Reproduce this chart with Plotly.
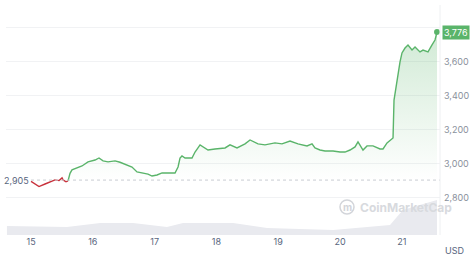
import plotly.graph_objects as go

# ---- data ----
days = [15.000, 15.065, 15.129, 15.227, 15.307, 15.388, 15.453, 15.502, 15.518, 15.566,
        15.599, 15.631, 15.663, 15.744, 15.825, 15.922, 16.036, 16.100, 16.165, 16.246,
        16.359, 16.440, 16.521, 16.634, 16.715, 16.812, 16.893, 16.958, 17.039, 17.120,
        17.217, 17.330, 17.379, 17.411, 17.443, 17.492, 17.605, 17.654, 17.735, 17.816,
        17.864, 17.977, 18.139, 18.220, 18.333, 18.463, 18.544, 18.673, 18.786, 18.948,
        19.061, 19.191, 19.320, 19.466, 19.547, 19.595, 19.676, 19.757, 19.887, 20.000,
        20.081, 20.162, 20.243, 20.291, 20.372, 20.437, 20.534, 20.647, 20.696, 20.761,
        20.809, 20.858, 20.874, 20.906, 20.939, 20.971, 21.003, 21.052, 21.100, 21.165,
        21.214, 21.294, 21.343, 21.424, 21.489, 21.537, 21.570]
price = [2897, 2880, 2867, 2882, 2895, 2906, 2902, 2918, 2906, 2895,
         2900, 2945, 2965, 2976, 2988, 3012, 3023, 3035, 3018, 3012,
         3018, 3010, 3000, 2982, 2953, 2947, 2940, 2929, 2935, 2947,
         2945, 2947, 2982, 3035, 3047, 3035, 3035, 3070, 3112, 3094,
         3082, 3088, 3094, 3112, 3094, 3118, 3141, 3118, 3112, 3124,
         3118, 3135, 3118, 3106, 3118, 3094, 3082, 3076, 3076, 3070,
         3070, 3082, 3100, 3130, 3082, 3106, 3106, 3088, 3088, 3124,
         3141, 3153, 3376, 3453, 3535, 3600, 3653, 3682, 3700, 3670,
         3688, 3659, 3670, 3659, 3700, 3729, 3776]
split_index = 10  # last red point / first green point
open_price = 2905
last_price = 3776

vol_days = [14.61, 15.58, 16.12, 16.65, 17.20, 17.46, 18.27, 18.82, 19.35, 19.89,
            20.44, 20.81, 20.92, 21.02, 21.29, 21.57]
volume = [9, 8, 12, 12, 8, 12, 12, 7, 6, 5, 8, 10, 18, 25, 30, 35]

day_ticks = [15, 16, 17, 18, 19, 20, 21]
price_ticks = [2800, 3000, 3200, 3400, 3600, 3800]
price_tick_text = ["2,800", "3,000", "3,200", "3,400", "3,600", ""]  # 3,800 hidden by badge

GREEN = "#5ab46a"
RED = "#c8323c"
GRAY = "#8a919c"
DARK = "#58667e"

fig = go.Figure()

# volume area (secondary axis)
fig.add_trace(go.Scatter(x=vol_days, y=volume, yaxis="y2", mode="lines",
                         line=dict(width=0, color="#e6e7ec"), fill="tozeroy",
                         fillcolor="#e9eaef", hoverinfo="skip", showlegend=False))

g_days = days[split_index:]
g_price = price[split_index:]
# baseline for the gradient fill
fig.add_trace(go.Scatter(x=g_days, y=[open_price] * len(g_days), mode="lines",
                         line=dict(width=0), hoverinfo="skip", showlegend=False))
fig.add_trace(go.Scatter(x=g_days, y=g_price, mode="lines", fill="tonexty",
                         fillgradient=dict(type="vertical",
                                           colorscale=[[0, "rgba(90,180,106,0)"],
                                                       [1, "rgba(90,180,106,0.28)"]]),
                         line=dict(color=GREEN, width=1.4), showlegend=False))
fig.add_trace(go.Scatter(x=days[:split_index + 1], y=price[:split_index + 1], mode="lines",
                         line=dict(color=RED, width=1.4), showlegend=False))
# end dot
fig.add_trace(go.Scatter(x=[days[-1]], y=[price[-1]], mode="markers",
                         marker=dict(color=GREEN, size=6), showlegend=False))

# dotted open-price line
fig.add_shape(type="line", xref="x", yref="y", x0=days[0], x1=21.618,
              y0=open_price, y1=open_price,
              line=dict(color="#c9ccd2", width=1, dash="dot"))

fig.update_layout(
    width=474, height=256,
    margin=dict(l=6, r=34, t=5, b=21),
    paper_bgcolor="white", plot_bgcolor="white",
    font=dict(family="Inter, Roboto, sans-serif", size=9, color=GRAY),
    xaxis=dict(range=[14.595, 21.618], tickvals=day_ticks,
               ticktext=[str(d) for d in day_ticks], showgrid=False,
               zeroline=False, showline=False, ticks="",
               tickfont=dict(size=9, color=DARK)),
    yaxis=dict(range=[2582, 3935], side="right", tickvals=price_ticks,
               ticktext=price_tick_text,
               showgrid=True, gridcolor="#f1f2f4", gridwidth=1, zeroline=False,
               ticks="", ticklabelstandoff=3,
               tickfont=dict(size=9, color=GRAY)),
    yaxis2=dict(range=[0, 230], overlaying="y", visible=False),
    showlegend=False,
)

# right edge line of plot
fig.add_shape(type="line", xref="paper", yref="paper", x0=1, x1=1, y0=0, y1=1,
              line=dict(color="#eef0f2", width=1))

# last price badge
fig.add_annotation(xref="paper", yref="y", x=1.0, y=last_price, xanchor="left",
                   yanchor="middle", xshift=2, text=f"{last_price:,}", showarrow=False,
                   bgcolor=GREEN, font=dict(color="white", size=9), borderpad=1)
# open price label
fig.add_annotation(xref="paper", yref="y", x=0, y=open_price, xanchor="left",
                   yanchor="middle", xshift=-4, text=f"{open_price:,}", showarrow=False,
                   font=dict(color=DARK, size=9))
# USD label
fig.add_annotation(xref="paper", yref="paper", x=1.0, y=0, xanchor="left",
                   yanchor="top", xshift=3, yshift=-8, text="USD", showarrow=False,
                   font=dict(color=DARK, size=9))
# watermark
wm_y = (235 - 207) / 230
fig.add_shape(type="circle", xref="paper", yref="paper",
              x0=(340 - 6) / 434, x1=(354 - 6) / 434,
              y0=(235 - 214) / 230, y1=(235 - 200) / 230,
              line=dict(color="#d3d5da", width=1.5))
fig.add_annotation(xref="paper", yref="paper", x=(347 - 6) / 434, y=wm_y,
                   xanchor="center", yanchor="middle",
                   text="<b>m</b>", showarrow=False, font=dict(color="#d3d5da", size=10))
fig.add_annotation(xref="paper", yref="paper", x=(358 - 6) / 434, y=wm_y,
                   xanchor="left", yanchor="middle",
                   text="<b>CoinMarketCap</b>", showarrow=False,
                   font=dict(color="#d8dade", size=12))

fig.write_html("out.html")
